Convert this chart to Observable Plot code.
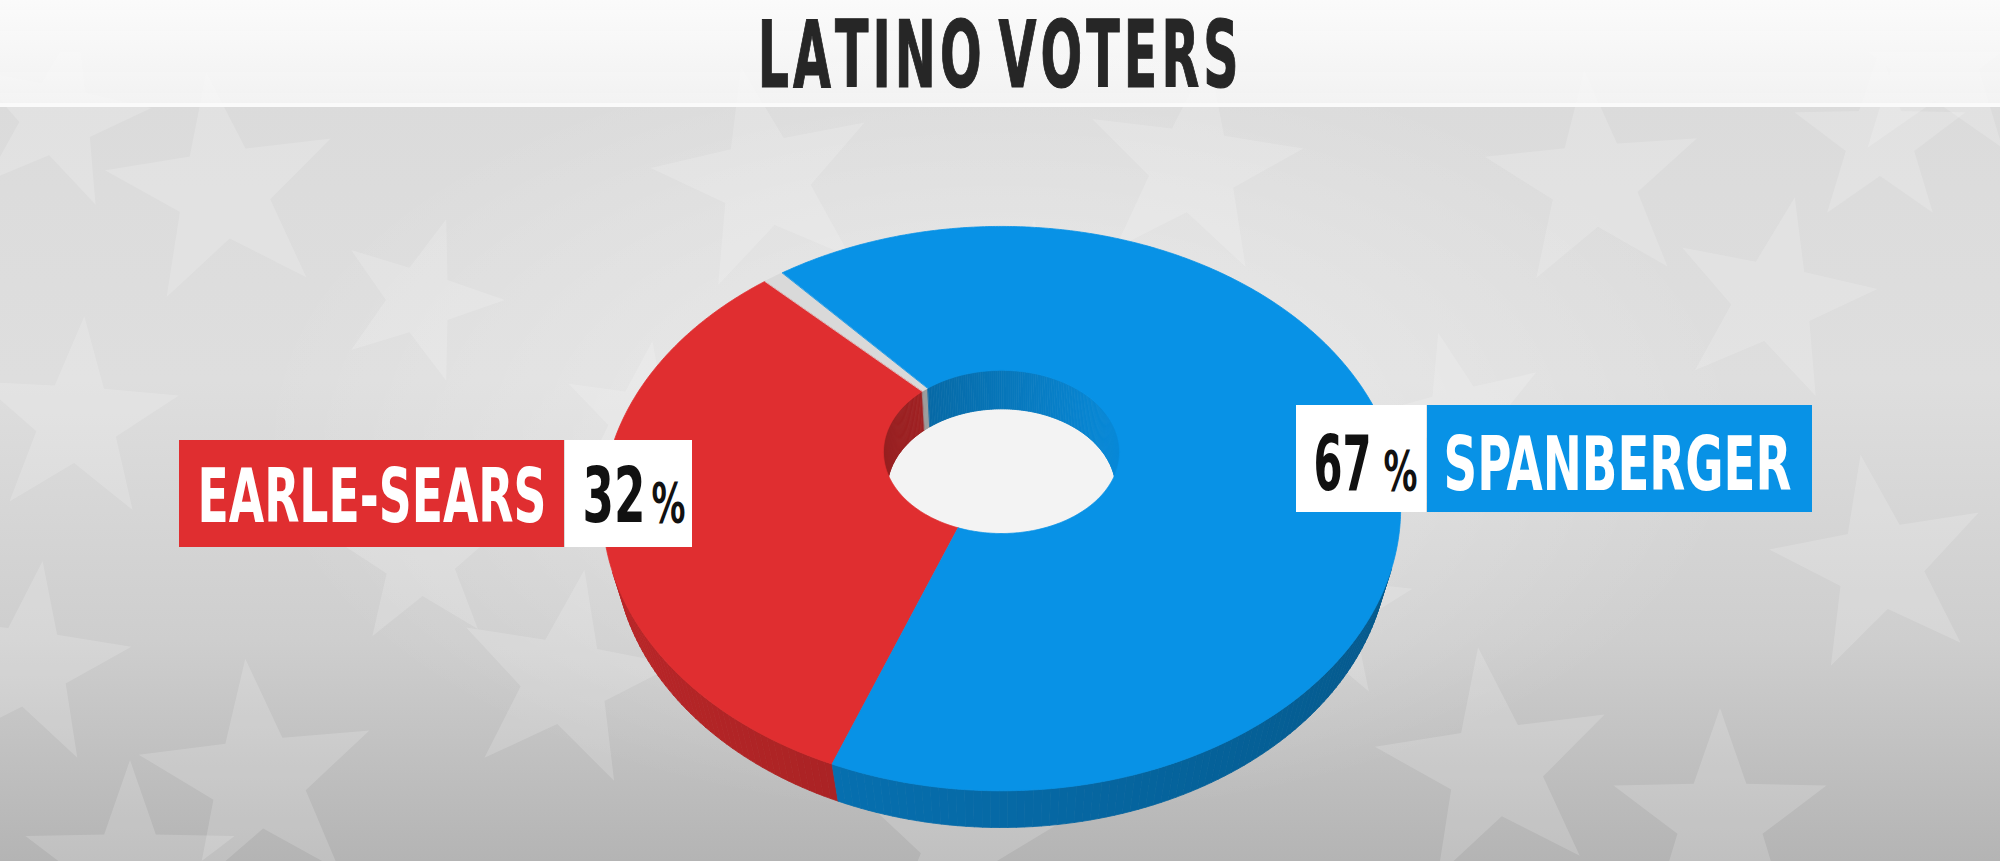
<!DOCTYPE html>
<html>
<head>
<meta charset="utf-8">
<script src="https://cdn.jsdelivr.net/npm/d3@7"></script>
<script src="https://cdn.jsdelivr.net/npm/@observablehq/plot@0.6"></script>
<style>
html, body { margin: 0; padding: 0; width: 2000px; height: 861px; overflow: hidden; background: #d6d6d6; }
#stage { position: relative; width: 2000px; height: 861px; overflow: hidden;
  background:
    radial-gradient(ellipse 1000px 520px at 1000px 430px, rgba(255,255,255,0.42), rgba(255,255,255,0) 75%),
    linear-gradient(#dadada 0px, #dedede 380px, #cecece 640px, #b4b4b4 861px); }
#stars { position: absolute; left: 0; top: 0; }
#header { position: absolute; left: 0; top: 0; width: 2000px; height: 103px;
  background: linear-gradient(rgba(252,252,252,0.94), rgba(245,245,245,0.92)); border-bottom: 4px solid rgba(250,250,250,0.95); }
#title { position: absolute; left: 0; top: 9px; width: 2000px; text-align: center; }
#title span { display: inline-block; font-family: "DejaVu Sans Condensed", "DejaVu Sans", sans-serif; font-stretch: condensed;
  font-weight: bold; font-size: 93px; line-height: 93px; color: #262626; white-space: nowrap; font-kerning: none;
  letter-spacing: 7px; word-spacing: -14px;
  -webkit-text-stroke: 1.2px #262626; transform-origin: 50% 50%; }
#chart { position: absolute; left: 0; top: 105px; }
</style>
</head>
<body>
<div id="stage">
  <svg id="stars" width="2000" height="861"></svg>
  <div id="header"></div>
  <div id="title"><span>LATINO VOTERS</span></div>
  <div id="chart"></div>
</div>
<script>
// ---------------- data ----------------
const candidates = ["EARLE-SEARS", "OTHER", "SPANBERGER"];
const shares = [32, 1, 67];
const labelNames = ["EARLE-SEARS", "SPANBERGER"];
const labelShares = [32, 67];

// ---------------- styles / layout ----------------
const palette = { "EARLE-SEARS": "#e02e30", "OTHER": "#d9d9d9", "SPANBERGER": "#0892e6" };
const labelLayout = {
  "EARLE-SEARS": { nameBox: [179, 564], valueBox: [565, 692], top: 440, bottom: 547,
                   nameX: 197, nameW: 349, numX: 582, numW: 63, pctX: 651, pctW: 34, baseline: 521 },
  "SPANBERGER":  { nameBox: [1427, 1812], valueBox: [1296, 1426], top: 405, bottom: 512,
                   nameX: 1443, nameW: 348, numX: 1313, numW: 58, pctX: 1383, pctW: 34, baseline: 489 }
};
const HEADER = 105, W = 2000, H = 861 - HEADER;
const cam = { f: 1281, D: 3.29, tilt: 43.6 * Math.PI / 180, cx: 1001, cy: 446 - HEADER,
              rIn: 0.3025, h: 0.1417, start: 110.2 };
const FS_NAME = 74, FS_NUM = 77, FS_PCT = 55;

// ---------------- background stars (decoration) ----------------
const starList = [
  [223,191,120,-8],[57,118,95,12],[420,300,85,18],[77,421,105,4],[765,180,115,-12],[1193,168,112,8],
  [1594,182,112,-5],[1773,300,105,12],[1935,55,115,0],[1880,565,112,-10],[28,665,105,8],[258,780,122,-6],
  [565,680,112,10],[1495,768,122,-8],[1320,610,95,5],[1720,820,112,0],[960,845,100,6],[420,560,90,-4],
  [1030,300,80,3],[1460,420,90,-14],[640,420,80,9],[1230,470,70,2],[130,870,110,0],[1880,140,90,0]
];
(function drawStars() {
  const svg = d3.select("#stars");
  for (const [x, y, R, rot] of starList) {
    const pts = [];
    for (let k = 0; k < 10; k++) {
      const a = (-90 + rot + k * 36) * Math.PI / 180, rr = k % 2 ? R * 0.4 : R;
      pts.push([x + rr * Math.cos(a), y + rr * Math.sin(a)]);
    }
    svg.append("polygon").attr("points", pts.map(p => p.join(",")).join(" "))
      .attr("fill", "#ffffff").attr("fill-opacity", 0.17);
  }
})();

// ---------------- 3D projection ----------------
const sn = Math.sin(cam.tilt), cs = Math.cos(cam.tilt);
function proj(X, Y, Z) { const zc = cam.D - Y * sn - Z * cs; return { u: X / zc, v: (Z * sn - Y * cs) / zc }; }
function pt(r, deg, Y) { const a = deg * Math.PI / 180; return proj(r * Math.cos(a), Y, r * Math.sin(a)); }
function arc(r, a0, a1, Y) {
  const n = Math.max(2, Math.ceil(Math.abs(a1 - a0) / 0.5));
  return d3.range(n + 1).map(k => pt(r, a0 + (a1 - a0) * k / n, Y));
}
function shade(hex, k) { const c = d3.rgb(hex); return d3.rgb(c.r * k, c.g * k, c.b * k).formatHex(); }

let cum = 0;
const slices = candidates.map((name, i) => {
  const a0 = cam.start + 3.6 * cum; cum += shares[i];
  return { name, a0, a1: cam.start + 3.6 * cum };
});

const floor = arc(cam.rIn, 0, 360, -cam.h).map(p => ({ ...p, id: "floor" }));

function wallQuads(kind) {
  const out = [];
  for (const sl of slices) {
    const n = Math.max(1, Math.ceil((sl.a1 - sl.a0) / 1));
    const r = kind === "outer" ? 1 : cam.rIn;
    for (let k = 0; k < n; k++) {
      const t0 = sl.a0 + (sl.a1 - sl.a0) * k / n, t1 = sl.a0 + (sl.a1 - sl.a0) * (k + 1) / n;
      const m = (t0 + t1) / 2 * Math.PI / 180;
      const facing = kind === "outer" ? cam.D * cs * Math.sin(m) - 1 : r - cam.D * cs * Math.sin(m);
      if (facing <= 0) continue;
      const kf = kind === "outer" ? 0.72 - 0.12 * Math.cos(m) : 0.805 + 0.13 * Math.cos(m);
      const color = shade(palette[sl.name], kf);
      const id = kind + sl.name + k;
      [pt(r, t0, 0), pt(r, t1, 0), pt(r, t1, -cam.h), pt(r, t0, -cam.h)]
        .forEach(p => out.push({ ...p, id, color }));
    }
  }
  return out;
}
const innerWalls = wallQuads("inner");
const outerWalls = wallQuads("outer");
const tops = slices.flatMap(sl =>
  [...arc(1, sl.a0, sl.a1, 0), ...arc(cam.rIn, sl.a1, sl.a0, 0)]
    .map(p => ({ ...p, id: "top" + sl.name, color: palette[sl.name] })));

// ---------------- labels ----------------
const px2u = px => (px - cam.cx) / cam.f;
const py2v = py => (py - HEADER - cam.cy) / cam.f;
const boxes = labelNames.flatMap(name => {
  const L = labelLayout[name];
  return [
    { x1: px2u(L.nameBox[0]), x2: px2u(L.nameBox[1]), y1: py2v(L.top), y2: py2v(L.bottom), color: palette[name] },
    { x1: px2u(L.valueBox[0]), x2: px2u(L.valueBox[1]), y1: py2v(L.top), y2: py2v(L.bottom), color: "#ffffff" }
  ];
});
const nameTexts = labelNames.map(name => {
  const L = labelLayout[name];
  return { u: px2u(L.nameX), v: py2v(L.baseline - 0.32 * FS_NAME), text: name, len: L.nameW };
});
const numTexts = labelNames.map((name, i) => {
  const L = labelLayout[name];
  return { u: px2u(L.numX), v: py2v(L.baseline - 0.32 * FS_NUM), text: String(labelShares[i]), len: L.numW };
});
const pctTexts = labelNames.map(name => {
  const L = labelLayout[name];
  return { u: px2u(L.pctX), v: py2v(L.baseline - 0.32 * FS_PCT), text: "%", len: L.pctW };
});

const FONT = '"DejaVu Sans Condensed", "DejaVu Sans", sans-serif';
const polyOpts = { x: "u", y: "v", z: "id", curve: "linear-closed" };

const chart = Plot.plot({
  width: W, height: H, margin: 0,
  x: { domain: [px2u(0), px2u(W)], range: [0, W], axis: null },
  y: { domain: [py2v(HEADER), py2v(861)], range: [0, H], axis: null },
  color: { type: "identity" },
  style: { background: "transparent", overflow: "visible" },
  marks: [
    Plot.line(floor, { ...polyOpts, fill: "#f3f3f3", stroke: "none" }),
    Plot.line(innerWalls, { ...polyOpts, fill: "color", stroke: "color", strokeWidth: 0.8 }),
    Plot.line(outerWalls, { ...polyOpts, fill: "color", stroke: "color", strokeWidth: 0.8 }),
    Plot.line(tops, { ...polyOpts, fill: "color", stroke: "color", strokeWidth: 0.8 }),
    Plot.rect(boxes, { x1: "x1", x2: "x2", y1: "y1", y2: "y2", fill: "color" }),
    Plot.text(nameTexts, { x: "u", y: "v", text: "text", fill: "#ffffff", fontSize: FS_NAME, fontWeight: "bold",
      fontFamily: FONT, textAnchor: "start", lineAnchor: "middle" }),
    Plot.text(numTexts, { x: "u", y: "v", text: "text", fill: "#111111", fontSize: FS_NUM, fontWeight: "bold",
      fontFamily: FONT, textAnchor: "start", lineAnchor: "middle" }),
    Plot.text(pctTexts, { x: "u", y: "v", text: "text", fill: "#111111", fontSize: FS_PCT, fontWeight: "bold",
      fontFamily: FONT, textAnchor: "start", lineAnchor: "middle" })
  ]
});
document.getElementById("chart").appendChild(chart);

// squeeze label texts horizontally to their measured widths (scale about the text start)
const fitLen = new Map([...nameTexts, ...numTexts, ...pctTexts].map(d => [d.text, d.len]));
chart.querySelectorAll("text").forEach(t => {
  const len = fitLen.get(t.textContent.trim());
  if (len == null) return;
  const natural = t.getComputedTextLength();
  if (!natural) return;
  const tr = t.getAttribute("transform") || "";
  t.setAttribute("transform", `${tr} scale(${len / natural},1)`);
});

// title fit
const span = document.querySelector("#title span");
const w0 = span.getBoundingClientRect().width;
span.style.transform = `scaleX(${485 / w0})`;
</script>
</body>
</html>
